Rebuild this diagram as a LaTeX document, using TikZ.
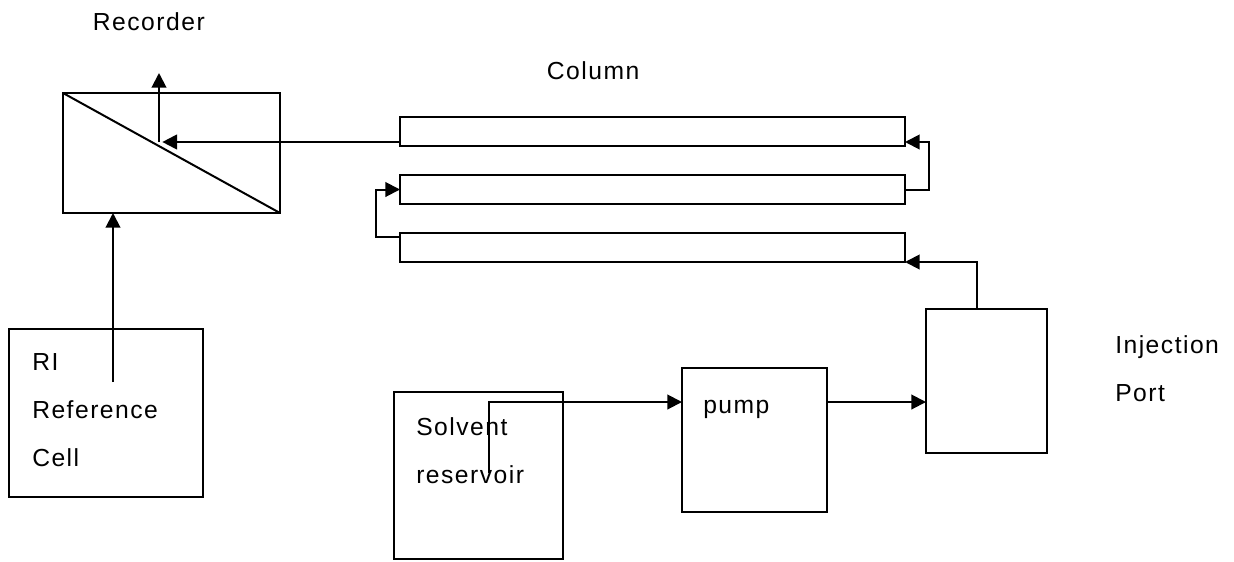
\documentclass[tikz,border=0pt]{standalone}
\usepackage{fontspec}
\setmainfont{Liberation Sans}[LetterSpace=6]
\usetikzlibrary{arrows.meta}

\begin{document}
\begin{tikzpicture}[
    x=0.75pt, y=-0.75pt,
    unit/.style={rectangle, draw, line width=1.5pt, inner sep=0pt, outer sep=0pt},
    tube/.style={unit, minimum width=378.75pt, minimum height=21.75pt},
    label/.style={inner sep=0pt, font=\fontsize{18.5}{36}\selectfont},
    boxtext/.style={label, align=left, anchor=north west},
    flow/.style={-{Triangle[length=11pt, width=11pt]}, line width=1.5pt},
    line/.style={line width=1.5pt}
]
\useasboundingbox (0,0) rectangle (1234,561);

% Detector and reference cell
\node[unit, minimum width=162.75pt, minimum height=90pt] (rec) at (171.5,153) {};
\node[unit, minimum width=145.5pt, minimum height=126pt] (ref) at (106,413) {};

% Column, folded in three passes
\node[tube] (col1) at (652.5,131.5) {};
\node[tube] (col2) at (652.5,189.5) {};
\node[tube] (col3) at (652.5,247.5) {};

% Solvent delivery
\node[unit, minimum width=126.75pt, minimum height=125.25pt] (sol) at (478.5,475.5) {};
\node[unit, minimum width=108.75pt, minimum height=108pt] (pump) at (754.5,440) {};
\node[unit, minimum width=90.75pt, minimum height=108pt] (inj) at (986.5,381) {};

% Texts
\node[label, anchor=base west] (reclbl) at (92.7,30) {Recorder};
\node[label, anchor=base west] (collbl) at (546.7,79) {Column};
\node[boxtext] (reflbl) at (32,353) {RI\\Reference\\Cell};
\node[boxtext] (sollbl) at (416,417) {Solvent\\reservoir};
\node[label, anchor=base west] (pumplbl) at (703,413) {pump};
\node[boxtext] (injlbl) at (1115,335) {Injection\\Port};

% Helper points
\coordinate (tap) at (159,142);
\coordinate (out) at (159,73);
\coordinate (probe) at (113,382);
\coordinate (drain) at (489,473);
\coordinate (feed) at (489,402);

% Connections
\draw[line] (rec.north west) -- (rec.south east);
\draw[flow] (tap) -- (out);
\draw[flow] ([yshift=3pt]col1.south west) -- ([xshift=2.5pt]tap);
\draw[flow] (col2.east) -- ++(24,0) |- ([yshift=3pt]col1.south east);
\draw[flow] ([yshift=-2.8pt]col3.north west) -- ++(-24,0) |- (col2.west);
\draw[flow] ([xshift=-7pt]inj.north) |- (col3.south east);
\draw[flow] (probe) -- (probe |- rec.south);
\draw[flow] (drain) |- (pump.west |- feed);
\draw[flow] (pump.east |- feed) -- (inj.west |- feed);

\end{tikzpicture}
\end{document}
